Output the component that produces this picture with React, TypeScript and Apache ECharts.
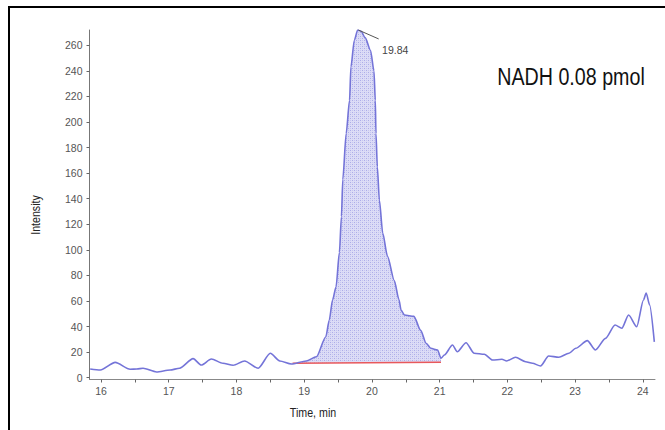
import React, { useEffect, useRef } from "react";
import * as echarts from "echarts";

// Chromatogram trace (time in min, intensity)
const TIME = [
  15.84, 15.99, 16.21, 16.43, 16.53, 16.62, 16.82, 17.02, 17.16, 17.36, 17.48, 17.63, 17.8, 17.95,
  18.12, 18.32, 18.5, 18.64, 18.81, 19.03, 19.18, 19.32, 19.37, 19.42, 19.47, 19.52, 19.55, 19.57,
  19.62, 19.67, 19.69, 19.74, 19.79, 19.84, 19.9, 19.98, 20.03, 20.05, 20.06, 20.08, 20.11, 20.16,
  20.23, 20.33, 20.4, 20.43, 20.48, 20.62, 20.72, 20.8, 20.87, 20.97, 21.02, 21.07, 21.19, 21.26,
  21.39, 21.51, 21.66, 21.78, 21.92, 21.99, 22.12, 22.27, 22.37, 22.49, 22.61, 22.76, 22.91, 23.01,
  23.18, 23.3, 23.45, 23.59, 23.69, 23.79, 23.91, 24.01, 24.05, 24.1, 24.17,
];
const INTENSITY = [
  6.8, 6.0, 12.0, 6.6, 6.8, 7.4, 4.5, 6.0, 7.4, 14.9, 9.9, 14.6, 11.3, 9.7,
  13.1, 7.4, 19.1, 13.1, 10.7, 13.1, 16.4, 32.1, 45, 61, 71, 98, 126, 155,
  191, 217, 243, 264, 272, 271, 266, 256, 240, 217, 191, 165, 139, 113,
  95, 76, 61, 53, 49, 48, 37, 27, 23, 21.7, 15.2, 17.8, 25.6, 20.3,
  27.4, 19.1, 18.3, 13.8, 14.4, 13.1, 16.0, 12.5, 11.3, 9.2, 17.0, 16.0, 19.1, 23.0,
  29.0, 21.7, 30.8, 41.2, 38.7, 49.1, 39.9, 60.8, 66.3, 57, 28,
];

// Integrated peak range and its baseline
const PEAK_RANGE = [18.81, 21.02];
const BASELINE_T = [18.83, 21.02];
const BASELINE_V = [11.3, 12.1];
const AREA_ORIGIN = 11.7;

// Peak annotation
const PEAK_LABEL = "19.84";
const PEAK_POINT = [19.8, 272];
const LABEL_POINT = [20.1, 265];
const LABEL_TEXT_POINT = [20.15, 256];

// Axis ticks
const X_LABELS = [16, 17, 18, 19, 20, 21, 22, 23, 24];
const X_TICKS = [16, 16.5, 17, 17.5, 18, 18.5, 19, 19.5, 20, 20.5, 21, 21.5, 22, 22.5, 23, 23.5, 24];
const Y_LABELS = [0, 20, 40, 60, 80, 100, 120, 140, 160, 180, 200, 220, 240, 260];

const TITLE = "NADH 0.08 pmol";
const X_NAME = "Time, min";
const Y_NAME = "Intensity";

const FONT = "'Liberation Sans', Arial, sans-serif";
const NARROW = 0.82;

export default function App() {
  const ref = useRef<HTMLDivElement>(null);
  useEffect(() => {
    if (!ref.current) return;
    const chart = echarts.init(ref.current, undefined, { renderer: "svg" });

    const pc = document.createElement("canvas");
    pc.width = 4;
    pc.height = 4;
    const ctx = pc.getContext("2d")!;
    ctx.fillStyle = "#dcdcf6";
    ctx.fillRect(0, 0, 4, 4);
    ctx.fillStyle = "#acace8";
    ctx.fillRect(0, 0, 1, 1);
    ctx.fillRect(2, 2, 1, 1);
    ctx.fillStyle = "#c6c6f0";
    ctx.fillRect(2, 0, 1, 1);
    ctx.fillRect(0, 2, 1, 1);

    const trace = TIME.map((t, i) => [t, INTENSITY[i]]);
    const peak = trace.filter((p) => p[0] >= PEAK_RANGE[0] && p[0] <= PEAK_RANGE[1]);
    const baseline = BASELINE_T.map((t, i) => [t, BASELINE_V[i]]);

    const labelStyle = { color: "#555", fontSize: 10.5, fontFamily: FONT };

    chart.setOption({
      animation: false,
      backgroundColor: "#ffffff",
      grid: { left: 89.5, top: 30, right: 10, bottom: 50.5, containLabel: false },
      xAxis: {
        type: "value",
        min: 15.83,
        max: 24.18,
        splitLine: { show: false },
        axisLine: { onZero: false, lineStyle: { color: "#888", width: 1 } },
        axisTick: { length: 3, customValues: X_TICKS, lineStyle: { color: "#666" } },
        axisLabel: { ...labelStyle, margin: 6, customValues: X_LABELS },
      },
      yAxis: {
        type: "value",
        min: -1.4,
        max: 272,
        splitLine: { show: false },
        axisLine: { onZero: false, lineStyle: { color: "#777", width: 1 } },
        axisTick: { length: 3, customValues: Y_LABELS, lineStyle: { color: "#666" } },
        axisLabel: { ...labelStyle, margin: 7, customValues: Y_LABELS },
      },
      series: [
        {
          type: "line",
          data: peak,
          smooth: 0.25,
          smoothMonotone: "x",
          showSymbol: false,
          symbol: "none",
          lineStyle: { width: 0 },
          areaStyle: {
            origin: AREA_ORIGIN,
            color: { image: pc, repeat: "repeat" },
            opacity: 1,
          },
          z: 1,
          silent: true,
        },
        {
          type: "line",
          data: baseline,
          showSymbol: false,
          symbol: "none",
          lineStyle: { color: "#e8585c", width: 1.5 },
          z: 2,
          silent: true,
        },
        {
          type: "line",
          data: trace,
          smooth: 0.25,
          smoothMonotone: "x",
          showSymbol: false,
          symbol: "none",
          lineStyle: { color: "#7474d8", width: 1.6 },
          z: 3,
          silent: true,
          markLine: {
            silent: true,
            symbol: "none",
            animation: false,
            lineStyle: { color: "#555", width: 1, type: "solid" },
            label: { show: false },
            data: [[{ coord: PEAK_POINT }, { coord: LABEL_POINT }]],
          },
          markPoint: {
            silent: true,
            symbol: "circle",
            symbolSize: 0,
            data: [
              {
                coord: LABEL_TEXT_POINT,
                label: {
                  show: true,
                  formatter: PEAK_LABEL,
                  position: "right",
                  distance: 0,
                  color: "#444",
                  fontSize: 10.5,
                  fontFamily: FONT,
                },
              },
            ],
          },
        },
      ],
      graphic: [
        {
          type: "rect",
          shape: { x: 9, y: 7, width: 700, height: 500 },
          style: { fill: "none", stroke: "#000", lineWidth: 2 },
          silent: true,
        },
        {
          type: "text",
          x: 571,
          y: 77,
          scaleX: NARROW,
          style: {
            text: TITLE,
            align: "center",
            verticalAlign: "middle",
            fontSize: 24,
            fontFamily: FONT,
            fill: "#111",
          },
        },
        {
          type: "text",
          x: 313,
          y: 413,
          scaleX: NARROW,
          style: {
            text: X_NAME,
            align: "center",
            verticalAlign: "middle",
            fontSize: 13,
            fontFamily: FONT,
            fill: "#222",
          },
        },
        {
          type: "text",
          x: 36,
          y: 215,
          rotation: Math.PI / 2,
          scaleX: NARROW,
          style: {
            text: Y_NAME,
            align: "center",
            verticalAlign: "middle",
            fontSize: 13,
            fontFamily: FONT,
            fill: "#222",
          },
        },
      ],
    });
    return () => chart.dispose();
  }, []);
  return (
    <div
      ref={ref}
      style={{ position: "absolute", left: 0, top: 0, width: 665, height: 430, background: "#fff" }}
    />
  );
}
